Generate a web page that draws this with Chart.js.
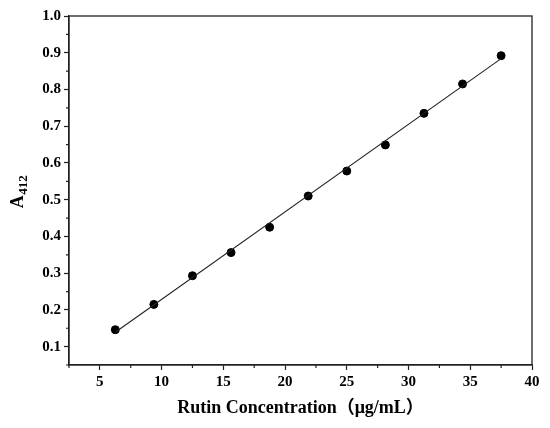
<!DOCTYPE html>
<html>
<head>
<meta charset="utf-8">
<script src="https://cdn.jsdelivr.net/npm/chart.js@4.4.0/dist/chart.umd.min.js"></script>
<style>
  html, body { margin: 0; padding: 0; background: #fff; }
  #wrap { width: 550px; height: 428px; }
</style>
</head>
<body>
<div id="wrap"><canvas id="myChart"></canvas></div>
<script>
// data
const concentration = [6.25, 9.375, 12.5, 15.625, 18.75, 21.875, 25, 28.125, 31.25, 34.375, 37.5];
const absorbance = [0.146, 0.215, 0.293, 0.356, 0.425, 0.510, 0.578, 0.649, 0.735, 0.815, 0.892];
// fitted line end points
const fitX = [6.25, 37.5];
const fitY = [0.139, 0.884];
// axis ticks
const xTicks = [2.5, 5, 7.5, 10, 12.5, 15, 17.5, 20, 22.5, 25, 27.5, 30, 32.5, 35, 37.5, 40];
const yTicks = [0.05, 0.1, 0.15, 0.2, 0.25, 0.3, 0.35, 0.4, 0.45, 0.5, 0.55, 0.6, 0.65, 0.7, 0.75, 0.8, 0.85, 0.9, 0.95, 1.0];

const serif = '"Liberation Serif", "Times New Roman", "Noto Sans CJK SC", serif';
const ink = '#222';

const isMajorX = v => Math.abs(v / 5 - Math.round(v / 5)) < 1e-6;
const isMajorY = v => Math.abs(v * 10 - Math.round(v * 10)) < 1e-6;

// box round the plot, minor ticks and the y title with subscript
const framePlugin = {
  id: 'frame',
  afterDraw(chart) {
    const c = chart.ctx;
    const a = chart.chartArea;
    c.save();
    c.strokeStyle = ink;
    c.lineWidth = 1.3;
    c.strokeRect(a.left, a.top, a.right - a.left, a.bottom - a.top);

    // minor ticks
    c.lineWidth = 1.2;
    c.beginPath();
    xTicks.filter(v => !isMajorX(v)).forEach(v => {
      const px = chart.scales.x.getPixelForValue(v);
      c.moveTo(px, a.bottom);
      c.lineTo(px, a.bottom + 3);
    });
    yTicks.filter(v => !isMajorY(v)).forEach(v => {
      const py = chart.scales.y.getPixelForValue(v);
      c.moveTo(a.left, py);
      c.lineTo(a.left - 3, py);
    });
    c.stroke();

    // A412
    c.translate(23, 192);
    c.rotate(-Math.PI / 2);
    c.fillStyle = '#000';
    c.textBaseline = 'alphabetic';
    const big = 'bold 18px ' + serif;
    const small = 'bold 13px ' + serif;
    c.font = big;
    const wA = c.measureText('A').width;
    c.font = small;
    const wS = c.measureText('412').width;
    const x0 = -(wA + wS) / 2;
    c.font = big;
    c.fillText('A', x0, 0);
    c.font = small;
    c.fillText('412', x0 + wA + 0.5, 4);
    c.restore();
  }
};

const ctx = document.getElementById('myChart').getContext('2d');

const chart = new Chart(ctx, {
  type: 'scatter',
  data: {
    datasets: [
      {
        label: 'fit',
        type: 'line',
        data: fitX.map((x, i) => ({ x: x, y: fitY[i] })),
        borderColor: ink,
        borderWidth: 1.1,
        pointRadius: 0,
        fill: false
      },
      {
        label: 'A412',
        data: concentration.map((x, i) => ({ x: x, y: absorbance[i] })),
        backgroundColor: '#000',
        borderColor: '#000',
        pointRadius: 4,
        pointHoverRadius: 4
      }
    ]
  },
  options: {
    responsive: true,
    maintainAspectRatio: false,
    animation: false,
    layout: {
      padding: { top: 16, right: 18, left: 0, bottom: 0 }
    },
    plugins: {
      legend: { display: false },
      tooltip: { enabled: false }
    },
    scales: {
      x: {
        type: 'linear',
        min: 2.5,
        max: 40,
        afterBuildTicks: s => { s.ticks = xTicks.map(v => ({ value: v })); },
        afterFit: s => { s.height = 63; },
        border: { display: true, color: ink, width: 1.3 },
        grid: {
          drawOnChartArea: false,
          tickLength: 5,
          tickWidth: 1.2,
          tickColor: c => (c.tick && isMajorX(c.tick.value) ? ink : 'rgba(0,0,0,0)')
        },
        ticks: {
          autoSkip: false,
          maxRotation: 0,
          padding: 3,
          color: '#000',
          font: { family: serif, size: 15, weight: 'bold' },
          callback: v => (isMajorX(v) ? String(Math.round(v)) : '')
        },
        title: {
          display: true,
          text: 'Rutin Concentration（μg/mL）',
          color: '#000',
          font: { family: serif, size: 18, weight: 'bold' },
          padding: { top: 0, bottom: 9 }
        }
      },
      y: {
        type: 'linear',
        min: 0.05,
        max: 1.0,
        afterBuildTicks: s => { s.ticks = yTicks.map(v => ({ value: v })); },
        afterFit: s => { s.width = 69; },
        border: { display: true, color: ink, width: 1.3 },
        grid: {
          drawOnChartArea: false,
          tickLength: 5,
          tickWidth: 1.2,
          tickColor: c => (c.tick && isMajorY(c.tick.value) ? ink : 'rgba(0,0,0,0)')
        },
        ticks: {
          autoSkip: false,
          padding: 3,
          color: '#000',
          font: { family: serif, size: 15, weight: 'bold' },
          callback: v => (isMajorY(v) ? v.toFixed(1) : '')
        }
      }
    }
  },
  plugins: [framePlugin]
});
</script>
</body>
</html>
